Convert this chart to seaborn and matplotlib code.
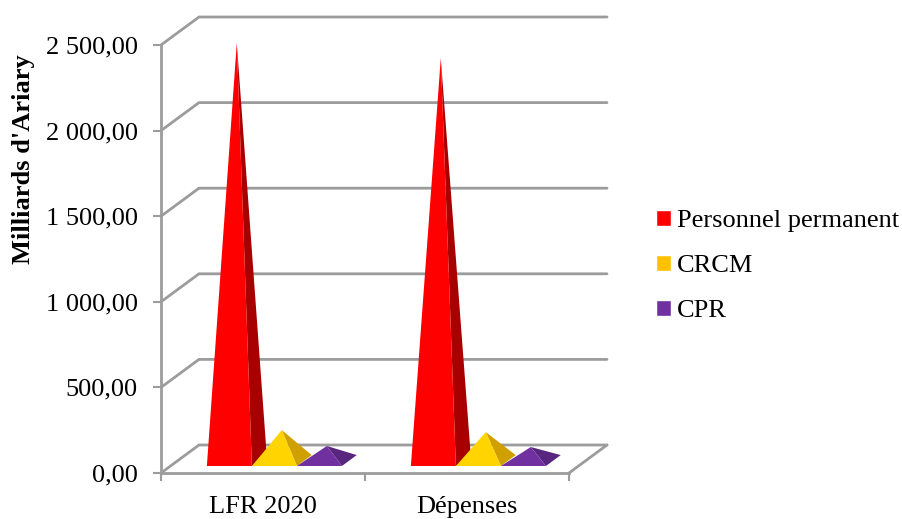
import matplotlib
matplotlib.use("Agg")
import matplotlib.pyplot as plt
import pandas as pd
import seaborn as sns

categories = ["LFR 2020", "Dépenses"]
series_names = ["Personnel permanent", "CRCM", "CPR"]
personnel = [2439, 2351]
crcm = [178, 166]
cpr = [85, 79]
y_ticks = [0, 500, 1000, 1500, 2000, 2500]
y_labels = ["0,00", "500,00", "1 000,00", "1 500,00", "2 000,00", "2 500,00"]

legend_colors = ["#FF0000", "#FFC000", "#7030A0"]
front_colors = ["#FF0000", "#FFD400", "#7030A0"]
side_colors = ["#A80000", "#D0A000", "#58267E"]
GREY = "#9C9C9C"

sns.set_theme(style="white")
plt.rcParams["font.family"] = ["Liberation Serif", "DejaVu Serif"]

df = pd.DataFrame({
    "category": categories * 3,
    "series": [n for n in series_names for _ in categories],
    "value": personnel + crcm + cpr,
})

W, H = 903, 519
fig = plt.figure(figsize=(W / 100, H / 100), dpi=100)
ax = fig.add_axes([161 / W, 1 - 473 / H, (569 - 161) / W, (473 - 45) / H])
ax.patch.set_alpha(0)

sns.barplot(data=df, x="category", y="value", hue="series", order=categories,
            hue_order=series_names, palette=legend_colors, width=0.662, gap=0,
            saturation=1, errorbar=None, ax=ax)

ax.set_xlim(-0.5, 1.5)
ax.set_ylim(0, 2500)

# oblique projection: full depth of the chart floor, in data units
depth_x = 38 / 204
depth_y = 28 / 428 * 2500

# back wall, side wall and floor
x0, x1 = ax.get_xlim()
for v in y_ticks:
    ax.plot([x0, x0 + depth_x, x1 + depth_x], [v, v + depth_y, v + depth_y],
            color=GREY, lw=2.0, clip_on=False, zorder=1, solid_joinstyle="miter")
ax.plot([x1, x1 + depth_x], [0, depth_y], color=GREY, lw=2.0, clip_on=False, zorder=1)

# each seaborn bar becomes a pyramid standing on the floor
near, far = 0.30, 0.69
zo = 3
for container, fc, sc in zip(ax.containers, front_colors, side_colors):
    for bar in container:
        bar.set_visible(False)
        left, w, h = bar.get_x(), bar.get_width(), bar.get_height()
        lx, rx = left + near * depth_x, left + w + near * depth_x
        by = 0.25 * depth_y
        bx2, by2 = left + w + far * depth_x, 0.64 * depth_y
        ax_apex = (lx + bx2) / 2
        ay_apex = (by + by2) / 2 + h
        ax.fill([rx, bx2, ax_apex], [by, by2, ay_apex], color=sc, lw=0, clip_on=False, zorder=zo)
        ax.fill([lx, rx, ax_apex], [by, by, ay_apex], color=fc, lw=0, clip_on=False, zorder=zo + 0.5)
        zo += 1

# axes
sns.despine(ax=ax)
for s in ("left", "bottom"):
    ax.spines[s].set_color(GREY)
    ax.spines[s].set_linewidth(2.0)
    ax.spines[s].set_zorder(2)

ax.set_yticks(y_ticks, y_labels)
ax.tick_params(axis="y", which="major", left=True, length=5.8, width=1.5, color=GREY,
               pad=11, labelsize=19, labelcolor="black")
ax.set_xticks([-0.5, 0.5, 1.5], minor=True)
ax.tick_params(axis="x", which="minor", bottom=True, length=5.8, width=1.5, color=GREY)
ax.tick_params(axis="x", which="major", bottom=False, length=5.8, pad=10.5, labelsize=19, labelcolor="black")
ax.set_xlabel("")
ax.set_ylabel("Milliards d'Ariary", fontsize=19, fontweight="bold", color="black")
ax.yaxis.set_label_coords(35 / W, 1 - 159 / H, transform=fig.transFigure)

sns.move_legend(ax, "center left", bbox_to_anchor=(656 / W, 1 - 266 / H),
                bbox_transform=fig.transFigure, frameon=False, title=None, fontsize=19,
                labelspacing=0.87, handlelength=0.55, handleheight=0.55,
                handletextpad=0.25, borderpad=0, borderaxespad=0, labelcolor="black")

fig.savefig("out.png", dpi=100, facecolor="white")
